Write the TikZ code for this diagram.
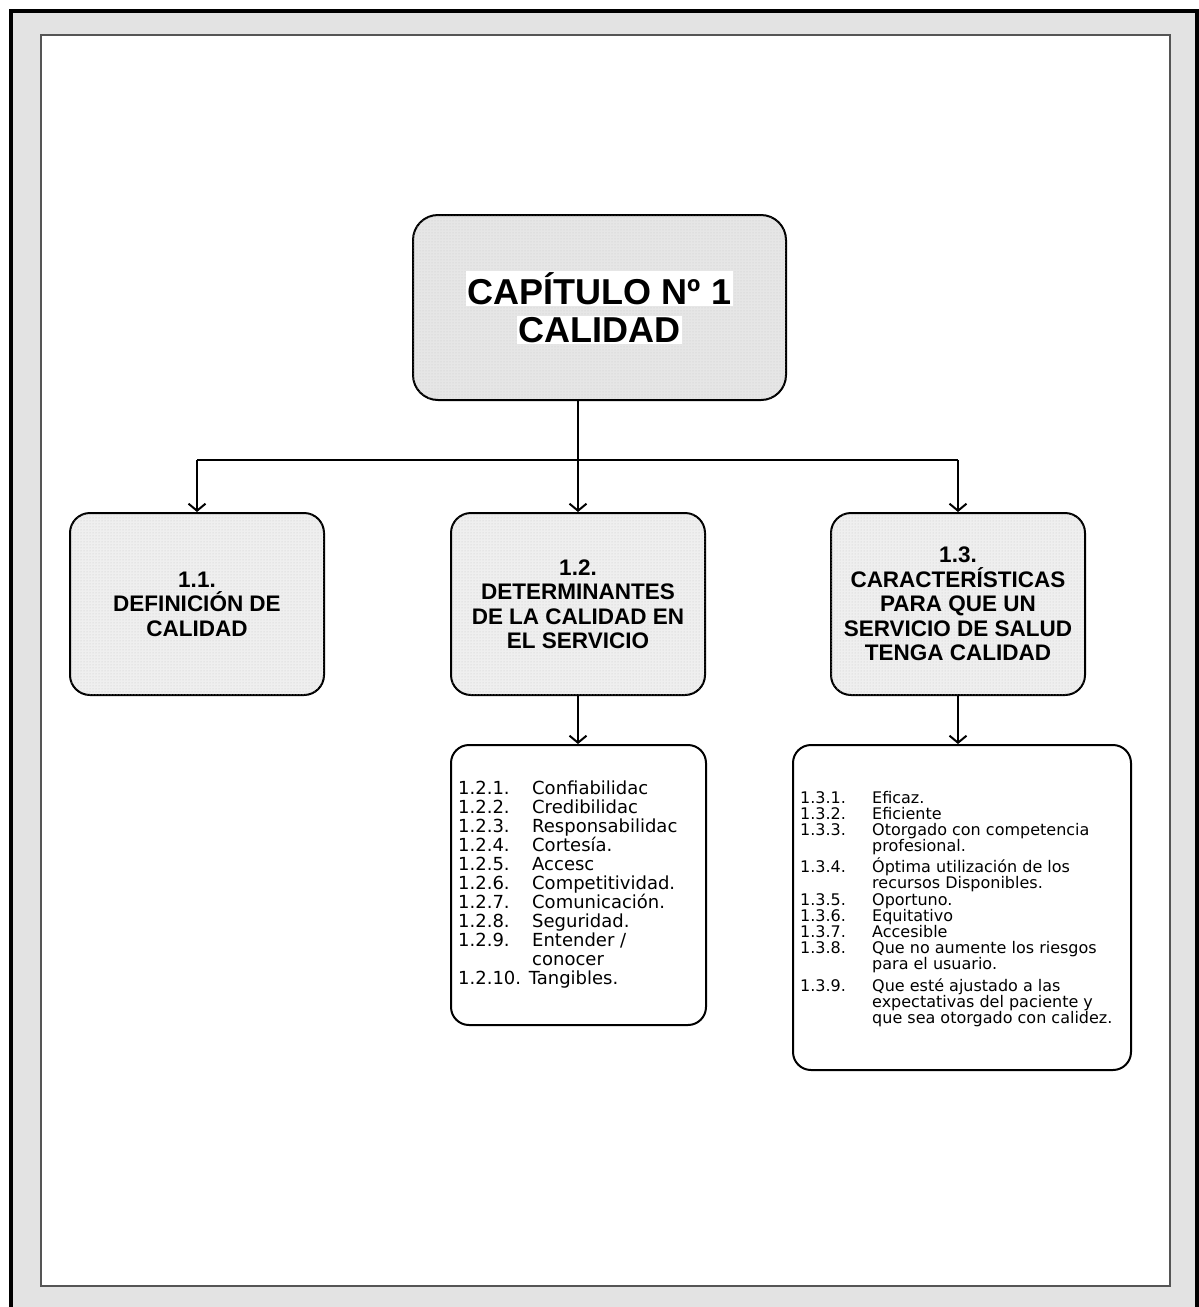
\documentclass[tikz,border=0pt]{standalone}
\usepackage{fontspec}
\setmainfont{Liberation Sans}
\newfontfamily\listfont{DejaVu Sans}
\usetikzlibrary{arrows.meta,patterns}
\definecolor{framegray}{HTML}{E3E3E3}
\definecolor{innerline}{HTML}{555555}
\definecolor{titlefill}{HTML}{E6E6E6}
\definecolor{headfill}{HTML}{EFEFEF}
\definecolor{dotgray}{HTML}{C8C8C8}
\newcommand{\numcol}[2]{\makebox[#1][l]{#2}}
\newcommand{\hilite}[1]{{\setlength{\fboxsep}{1.5pt}\colorbox{white}{#1}}}
\begin{document}
\setlength{\lineskiplimit}{-100pt}
\begin{tikzpicture}[x=1pt,y=-1pt,
  dotted fill/.style={postaction={pattern=dots, pattern color=dotgray}},
  titlebox/.style={draw=black, line width=2pt, rounded corners=25pt, fill=titlefill, dotted fill,
    minimum width=373pt, minimum height=185pt, inner sep=0pt, align=center,
    font=\fontsize{36}{38}\selectfont\bfseries},
  headbox/.style={draw=black, line width=2pt, rounded corners=20pt, fill=headfill, dotted fill,
    minimum width=254pt, minimum height=182pt, inner sep=0pt, align=center,
    font=\fontsize{22.5}{24.5}\selectfont\bfseries},
  listbox/.style={draw=black, line width=2pt, rounded corners=18pt, fill=white},
  listtext/.style={anchor=base west, inner sep=0pt, align=left},
  link/.style={draw=black, line width=2pt},
  arrowlink/.style={link, -{Straight Barb[length=7pt, width=17pt, line width=2pt]}}
]
\useasboundingbox (0,0) rectangle (1199,1307);
% page frame
\fill[framegray] (11,11) rectangle (1199,1307);
\draw[black, line width=4pt] (11,1310) -- (11,11) -- (1197,11) -- (1197,1310);
\draw[innerline, line width=1.5pt, fill=white] (41,35) rectangle (1170,1286);

% title
\node[titlebox] (title) at (599.5,307.5) {\hilite{CAPÍTULO Nº 1}\\\hilite{CALIDAD}};

% level 1 boxes
\node[headbox] (b11) at (197,604) {1.1.\\DEFINICIÓN DE\\CALIDAD};
\node[headbox] (b12) at (578,604) {1.2.\\DETERMINANTES\\DE LA CALIDAD EN\\EL SERVICIO};
\node[headbox] (b13) at (958,604) {1.3.\\CARACTERÍSTICAS\\PARA QUE UN\\SERVICIO DE SALUD\\TENGA CALIDAD};

% list boxes
\node[listbox, minimum width=255pt, minimum height=280pt, inner sep=0pt] (l12) at (578.5,885) {};
\node[listbox, minimum width=338pt, minimum height=325pt, inner sep=0pt] (l13) at (962,907.5) {};

% (base anchor = baseline of the last line)
\node[listtext, font=\listfont\fontsize{18}{19}\selectfont] (t12) at (458,984)
  {\numcol{74pt}{1.2.1.}Confiabilidac\\
   \numcol{74pt}{1.2.2.}Credibilidac\\
   \numcol{74pt}{1.2.3.}Responsabilidac\\
   \numcol{74pt}{1.2.4.}Cortesía.\\
   \numcol{74pt}{1.2.5.}Accesc\\
   \numcol{74pt}{1.2.6.}Competitividad.\\
   \numcol{74pt}{1.2.7.}Comunicación.\\
   \numcol{74pt}{1.2.8.}Seguridad.\\
   \numcol{74pt}{1.2.9.}Entender /\\
   \numcol{74pt}{}conocer\\
   1.2.10. Tangibles.};

\node[listtext, font=\listfont\fontsize{16}{16}\selectfont] (t13) at (800,1023)
  {\numcol{72pt}{1.3.1.}Eficaz.\\
   \numcol{72pt}{1.3.2.}Eficiente\\
   \numcol{72pt}{1.3.3.}Otorgado con competencia\\
   \numcol{72pt}{}profesional.\\[5pt]
   \numcol{72pt}{1.3.4.}Óptima utilización de los\\
   \numcol{72pt}{}recursos Disponibles.\\[1pt]
   \numcol{72pt}{1.3.5.}Oportuno.\\
   \numcol{72pt}{1.3.6.}Equitativo\\
   \numcol{72pt}{1.3.7.}Accesible\\
   \numcol{72pt}{1.3.8.}Que no aumente los riesgos\\
   \numcol{72pt}{}para el usuario.\\[6pt]
   \numcol{72pt}{1.3.9.}Que esté ajustado a las\\
   \numcol{72pt}{}expectativas del paciente y\\
   \numcol{72pt}{}que sea otorgado con calidez.};

% connectors
\coordinate (hub) at (578,460);
\coordinate (hubL) at (197,460);
\coordinate (hubR) at (958,460);
\draw[link] (title.south -| hub) -- (hub);
\draw[link] (hubL) -- (hubR);
\draw[arrowlink] (hubL) -- (b11.north);
\draw[arrowlink] (hub) -- (b12.north);
\draw[arrowlink] (hubR) -- (b13.north);
\draw[arrowlink] (b12.south) -- (b12.south |- l12.north);
\draw[arrowlink] (b13.south) -- (b13.south |- l13.north);
\end{tikzpicture}
\end{document}
